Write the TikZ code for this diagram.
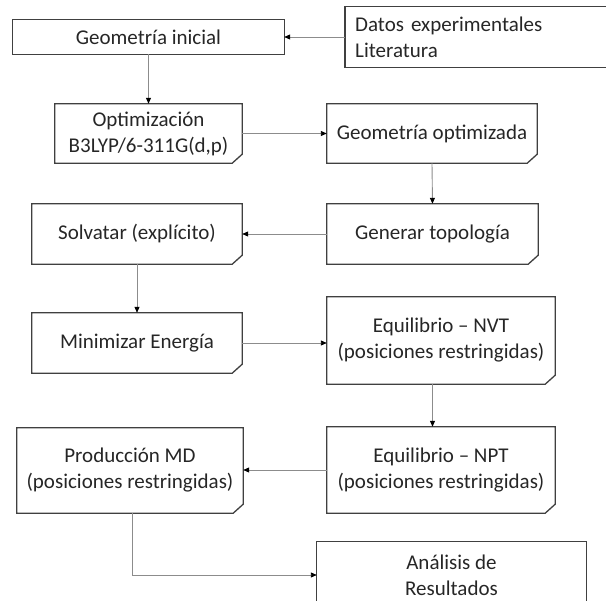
\documentclass[tikz,border=0pt]{standalone}
\usepackage{fontspec}
\setmainfont{Carlito}
\usetikzlibrary{arrows.meta}
\definecolor{boxline}{HTML}{404040}
\definecolor{conline}{HTML}{8C8C8C}
\definecolor{txt}{HTML}{262626}
\def\snipbox(#1){\draw[box] (#1.north west) -- (#1.north east) -- ([yshift=9pt]#1.south east) -- ([xshift=-10pt]#1.south east) -- (#1.south west) -- cycle;}
\def\plainbox(#1){\draw[box] (#1.north west) rectangle (#1.south east);}
\tikzset{
	paso/.style={inner sep=0pt, align=center, text=txt, font=\fontsize{21}{26}\selectfont},
	box/.style={draw=boxline, line width=1.3pt, line join=miter},
	con/.style={draw=conline, line width=0.9pt, -{Triangle[length=6pt,width=5pt,color=black]}}
}

\begin{document}
\begin{tikzpicture}[x=1pt, y=-1pt]
			%%%%% START %%%%%
			\useasboundingbox (0, 0) rectangle (606, 601);
			\clip (0, 0) rectangle (606, 601);
			
			\node[paso, minimum width=271pt, minimum height=34pt] (ini) at (148.5, 37) {Geometría inicial};
			\node[paso, anchor=west, align=left, text width=260pt, inner xsep=10pt, minimum height=60pt] (datos) at (345, 37) {Datos experimentales\\Literatura};
			
			\node[paso, minimum width=187pt, minimum height=59pt] (opt) at (148.5, 133.5) {Optimización\\B3LYP/6-311G(d,p)};
			\node[paso, minimum width=210pt, minimum height=59pt] (geoopt) at (432, 133.5) {Geometría optimizada};
			
			\node[paso, minimum width=210pt, minimum height=60pt] (solv) at (137, 234) {Solvatar (explícito)};
			\node[paso, minimum width=211pt, minimum height=60pt] (gen) at (432.5, 234) {Generar topología};
			
			\node[paso, minimum width=210pt, minimum height=60pt] (mini) at (137, 343) {Minimizar Energía};
			\node[paso, minimum width=228pt, minimum height=87pt] (nvt) at (441, 340.5) {Equilibrio – NVT\\(posiciones restringidas)};
			
			\node[paso, minimum width=226pt, minimum height=85pt] (prod) at (130, 470.5) {Producción MD\\(posiciones restringidas)};
			\node[paso, minimum width=228pt, minimum height=86pt] (npt) at (441, 470) {Equilibrio – NPT\\(posiciones restringidas)};
			
			\node[paso, minimum width=269pt, minimum height=66pt] (ana) at (451.5, 575) {Análisis de\\Resultados};
			
			% cajas
			\plainbox(ini)
			\plainbox(datos)
			\plainbox(ana)
			\snipbox(opt)
			\snipbox(geoopt)
			\snipbox(solv)
			\snipbox(gen)
			\snipbox(mini)
			\snipbox(nvt)
			\snipbox(prod)
			\snipbox(npt)
			
			% flechas
			\draw[con] (datos.west) -- (ini.east);
			\draw[con] (ini.south) -- (opt.north);
			\draw[con] (opt.east) -- (geoopt.west);
			\draw[con] (geoopt.south) -- (gen.north);
			\draw[con] (gen.west) -- (solv.east);
			\draw[con] (solv.south) -- (mini.north);
			\draw[con] (mini.east) -- (mini.east -| nvt.west);
			\draw[con] (nvt.south -| gen.south) -- (npt.north -| gen.south);
			\draw[con] (npt.west) -- (npt.west -| prod.east);
			\draw[con] ([xshift=2pt]prod.south) |- (ana.west);
			
			%%%%% END %%%%%
		\end{tikzpicture}
\end{document}
